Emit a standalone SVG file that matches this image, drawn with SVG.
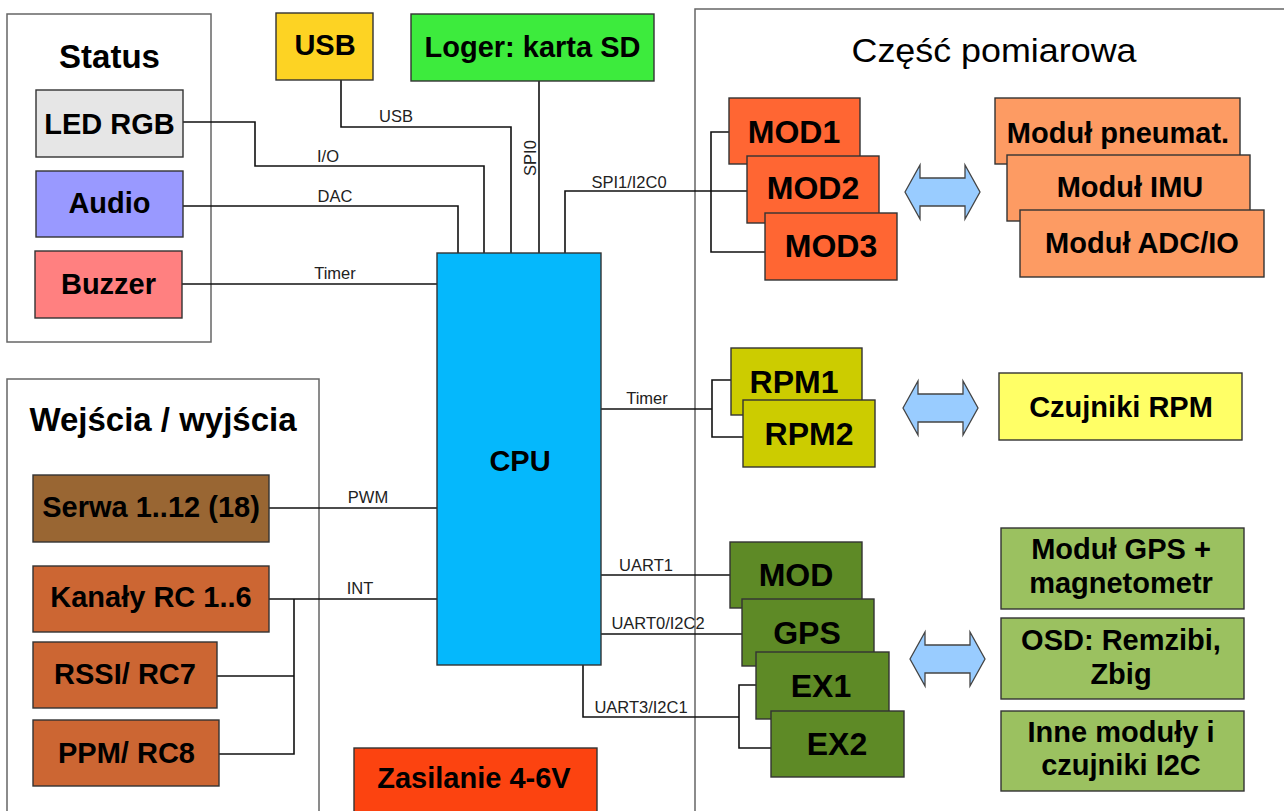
<svg xmlns="http://www.w3.org/2000/svg" width="1284" height="811" viewBox="0 0 1284 811">
<style>
text{font-family:"Liberation Sans",Arial,sans-serif;fill:#000}
.grp{fill:#fff;stroke:#666;stroke-width:1.5}
.box{stroke:#333;stroke-width:1.4}
.t{font-size:29px;font-weight:bold;text-anchor:middle}
.tb{font-size:32px;font-weight:bold;text-anchor:middle}
.title{font-size:33px;font-weight:bold;text-anchor:middle}
.lbl{font-size:16.5px;fill:#222;text-anchor:middle}
.wire{fill:none;stroke:#111;stroke-width:1.6}
.arr{fill:#99CCFF;stroke:#444;stroke-width:1.3}
</style>
<defs>
<path id="dblarrow" class="arr" d="M0,0 L15,-27 L15,-14 L60,-14 L60,-27 L75,0 L60,27 L60,14 L15,14 L15,27 Z"/>
</defs>
<rect width="1284" height="811" fill="#fff"/>

<g id="group-status">
<rect class="grp" x="7" y="14" width="204" height="328"/>
<text class="title" x="109.5" y="68">Status</text>
</g>
<g id="group-io">
<rect class="grp" x="7" y="379" width="312" height="440"/>
<text class="title" x="163" y="431">Wejścia / wyjścia</text>
</g>
<g id="group-pomiar">
<rect class="grp" x="695" y="9" width="600" height="810"/>
<text x="994" y="62" font-size="33" text-anchor="middle" textLength="285" lengthAdjust="spacingAndGlyphs">Część pomiarowa</text>
</g>

<g id="connectors">
<polyline class="wire" points="341,80 341,127 511,127 511,253"/>
<polyline class="wire" points="183,122 255,122 255,166 484,166 484,253"/>
<polyline class="wire" points="183,206 458,206 458,253"/>
<polyline class="wire" points="182,284 437,284"/>
<polyline class="wire" points="539,81 539,253"/>
<polyline class="wire" points="565,253 565,191 747,191"/>
<polyline class="wire" points="729,132 711,132 711,252 765,252"/>
<polyline class="wire" points="601,409 712,409"/>
<polyline class="wire" points="731,380 712,380 712,437 743,437"/>
<polyline class="wire" points="600,575 730,575"/>
<polyline class="wire" points="600,634 742,634"/>
<polyline class="wire" points="583,665 583,717 739,717"/>
<polyline class="wire" points="756,685 739,685 739,748 771,748"/>
<polyline class="wire" points="269,508 437,508"/>
<polyline class="wire" points="269,599 437,599"/>
<polyline class="wire" points="294,599 294,754 219,754"/>
<polyline class="wire" points="217,676 294,676"/>
<text class="lbl" x="396" y="122">USB</text>
<text class="lbl" x="328" y="162">I/O</text>
<text class="lbl" x="335" y="202">DAC</text>
<text class="lbl" x="335" y="279">Timer</text>
<text class="lbl" transform="translate(536,158) rotate(-90)">SPI0</text>
<text class="lbl" x="629" y="188">SPI1/I2C0</text>
<text class="lbl" x="647" y="404">Timer</text>
<text class="lbl" x="646" y="571">UART1</text>
<text class="lbl" x="658" y="629">UART0/I2C2</text>
<text class="lbl" x="641" y="713">UART3/I2C1</text>
<text class="lbl" x="368" y="503">PWM</text>
<text class="lbl" x="360" y="594">INT</text>
<use href="#dblarrow" x="905" y="192"/>
<use href="#dblarrow" x="903" y="408"/>
<use href="#dblarrow" x="910" y="659"/>
</g>

<g id="node-led"><rect class="box" x="36" y="90" width="147" height="67" fill="#E6E6E6"/><text class="t" x="109.5" y="134">LED RGB</text></g>
<g id="node-audio"><rect class="box" x="36" y="171" width="147" height="66" fill="#9999FF"/><text class="t" x="109.5" y="213">Audio</text></g>
<g id="node-buzzer"><rect class="box" x="35" y="251" width="147" height="67" fill="#FF8080"/><text class="t" x="108.5" y="294">Buzzer</text></g>
<g id="node-usb"><rect class="box" x="276" y="13" width="97" height="67" fill="#FDD323"/><text class="t" x="325" y="55">USB</text></g>
<g id="node-loger"><rect class="box" x="411" y="14" width="243" height="67" fill="#3DEB3D"/><text class="t" x="532.5" y="57">Loger: karta SD</text></g>
<g id="node-cpu"><rect class="box" x="437" y="253" width="164" height="412" fill="#05B8FC"/><text class="t" x="520" y="471">CPU</text></g>

<g id="node-serwa"><rect class="box" x="33" y="475" width="236" height="67" fill="#996633"/><text class="t" x="151" y="517">Serwa 1..12 (18)</text></g>
<g id="node-kanaly"><rect class="box" x="33" y="566" width="236" height="66" fill="#CC6633"/><text class="t" x="151" y="607">Kanały RC 1..6</text></g>
<g id="node-rssi"><rect class="box" x="33" y="642" width="184" height="66" fill="#CC6633"/><text class="t" x="125" y="684">RSSI/ RC7</text></g>
<g id="node-ppm"><rect class="box" x="33" y="720" width="186" height="66" fill="#CC6633"/><text class="t" x="126.5" y="763">PPM/ RC8</text></g>
<g id="node-zasilanie"><rect class="box" x="354" y="748" width="243" height="80" fill="#FC4310"/><text class="t" x="474" y="788">Zasilanie 4-6V</text></g>

<g id="node-mod1"><rect class="box" x="729" y="98" width="131" height="66" fill="#FF6633"/><text class="tb" x="794" y="143">MOD1</text></g>
<g id="node-mod2"><rect class="box" x="747" y="156" width="132" height="67" fill="#FF6633"/><text class="tb" x="813" y="199">MOD2</text></g>
<g id="node-mod3"><rect class="box" x="765" y="213" width="132" height="67" fill="#FF6633"/><text class="tb" x="831" y="257">MOD3</text></g>
<g id="node-pneumat"><rect class="box" x="995" y="98" width="245" height="66" fill="#FD9B63"/><text class="t" x="1118" y="143">Moduł pneumat.</text></g>
<g id="node-imu"><rect class="box" x="1007" y="155" width="243" height="66" fill="#FD9B63"/><text class="t" x="1130" y="197">Moduł IMU</text></g>
<g id="node-adc"><rect class="box" x="1020" y="210" width="244" height="67" fill="#FD9B63"/><text class="t" x="1142" y="253">Moduł ADC/IO</text></g>

<g id="node-rpm1"><rect class="box" x="731" y="348" width="131" height="67" fill="#CCCC00"/><text class="tb" x="794" y="393">RPM1</text></g>
<g id="node-rpm2"><rect class="box" x="743" y="400" width="132" height="67" fill="#CCCC00"/><text class="tb" x="809" y="445">RPM2</text></g>
<g id="node-czujniki"><rect class="box" x="999" y="373" width="243" height="67" fill="#FFFF66"/><text class="t" x="1121" y="417">Czujniki RPM</text></g>

<g id="node-mod"><rect class="box" x="730" y="542" width="132" height="66" fill="#5E8A26"/><text class="tb" x="796" y="586">MOD</text></g>
<g id="node-gps"><rect class="box" x="742" y="599" width="132" height="67" fill="#5E8A26"/><text class="tb" x="807" y="644">GPS</text></g>
<g id="node-ex1"><rect class="box" x="756" y="652" width="133" height="67" fill="#5E8A26"/><text class="tb" x="821" y="697">EX1</text></g>
<g id="node-ex2"><rect class="box" x="771" y="711" width="133" height="66" fill="#5E8A26"/><text class="tb" x="837" y="755">EX2</text></g>
<g id="node-gpsmod"><rect class="box" x="1001" y="528" width="243" height="81" fill="#9BC160"/><text class="t" x="1121" y="559">Moduł GPS +</text><text class="t" x="1121" y="593">magnetometr</text></g>
<g id="node-osd"><rect class="box" x="1001" y="618" width="243" height="81" fill="#9BC160"/><text class="t" x="1121" y="650">OSD: Remzibi,</text><text class="t" x="1121" y="684">Zbig</text></g>
<g id="node-inne"><rect class="box" x="1001" y="711" width="243" height="80" fill="#9BC160"/><text class="t" x="1121" y="742">Inne moduły i</text><text class="t" x="1121" y="775">czujniki I2C</text></g>
</svg>
